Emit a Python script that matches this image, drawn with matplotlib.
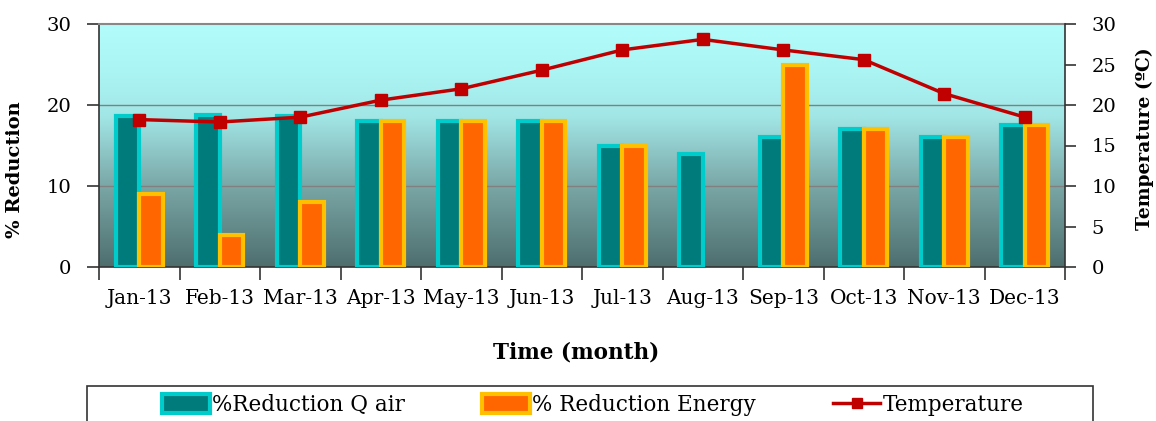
import numpy as np
import matplotlib
matplotlib.use("Agg")
import matplotlib.pyplot as plt
from matplotlib.colors import LinearSegmentedColormap
from matplotlib.patches import Rectangle
from matplotlib.lines import Line2D

plt.rcParams['font.family'] = ['DejaVu Serif']

# Data
months = ['Jan-13', 'Feb-13', 'Mar-13', 'Apr-13', 'May-13', 'Jun-13',
          'Jul-13', 'Aug-13', 'Sep-13', 'Oct-13', 'Nov-13', 'Dec-13']
red_q_air = [18.6, 18.8, 18.6, 18.0, 18.0, 18.0, 15.0, 14.0, 16.0, 17.0, 16.0, 17.5]
red_energy = [9.0, 4.0, 8.0, 18.0, 18.0, 18.0, 15.0, np.nan, 25.0, 17.0, 16.0, 17.5]
temperature = [18.2, 17.9, 18.5, 20.6, 22.0, 24.3, 26.8, 28.1, 26.8, 25.6, 21.4, 18.5]

W, H = 1156, 421
fig = plt.figure(figsize=(W / 100, H / 100), dpi=100)
ax = fig.add_axes([99 / W, 1 - 267 / H, (1065 - 99) / W, (267 - 24) / H])

# gradient background
cmap = LinearSegmentedColormap.from_list(
    'bg', [(0.0, '#4e6e6e'), (0.33, '#7aa6a6'), (0.62, '#a2e6e6'),
           (0.8, '#abf4f4'), (1.0, '#b2fcfc')])
grad = np.linspace(0, 1, 256).reshape(-1, 1)
ax.imshow(grad, extent=[0, 1, 0, 1], transform=ax.transAxes, cmap=cmap,
          origin='lower', aspect='auto', zorder=0)

x = np.arange(len(months))
bw = 0.29
ax.bar(x - bw / 2, red_q_air, bw, color='#007b7b', edgecolor='#00cccc',
       linewidth=3, zorder=3)
ax.bar(x + bw / 2, red_energy, bw, color='#ff6600', edgecolor='#ffc000',
       linewidth=3, zorder=3)

ax.set_xlim(-0.5, len(months) - 0.5)
ax.set_ylim(0, 30)
ax.set_yticks([0, 10, 20, 30])
for yv in [10, 20]:
    ax.axhline(yv, color='#808080', linewidth=1, zorder=1)

ax.set_xticks(np.arange(-0.5, len(months)), labels=[''] * (len(months) + 1))
ax.set_xticks(x, labels=months, minor=True)
ax.tick_params(axis='x', which='major', length=9, width=1.2, color='#333333')
ax.tick_params(axis='x', which='minor', length=0, pad=16, labelsize=14.5)
ax.tick_params(axis='y', length=9, width=1.2, color='#333333', pad=11, labelsize=14)

for s in ['left', 'bottom']:
    ax.spines[s].set_color('#333333')
    ax.spines[s].set_linewidth(1.2)
ax.spines['top'].set_color('#888888')
ax.spines['top'].set_linewidth(1.5)
ax.spines['right'].set_visible(False)

ax.set_ylabel('% Reduction', fontsize=14, fontweight='bold')
ax.yaxis.set_label_coords(-0.078, 0.40)

ax2 = ax.twinx()
ax2.plot(x, temperature, color='#c00000', linewidth=2.5, marker='s',
         markersize=8.5, zorder=5)
ax2.set_ylim(0, 30)
ax2.set_yticks(np.arange(0, 31, 5))
ax2.tick_params(axis='y', length=8, width=1.2, color='#333333', pad=11, labelsize=14)
ax2.spines['right'].set_color('#333333')
ax2.spines['right'].set_linewidth(1.2)
for s in ['left', 'top', 'bottom']:
    ax2.spines[s].set_visible(False)
ax2.set_ylabel('Temperature (ºC)', fontsize=13.5, fontweight='bold')
ax2.yaxis.set_label_coords(1.073, 0.53)

fig.text(576 / W, 1 - 352 / H, 'Time (month)', ha='center', va='center',
         fontsize=15.5, fontweight='bold')

# legend with box running off the bottom
fig.patches.append(Rectangle((87 / W, -0.1), (1093 - 87) / W, 0.1 + 1 - 386 / H,
                             transform=fig.transFigure, fill=False,
                             edgecolor='#333333', linewidth=1.2))
handles = [
    Rectangle((0, 0), 1, 1, facecolor='#007b7b', edgecolor='#00cccc', linewidth=3),
    Rectangle((0, 0), 1, 1, facecolor='#ff6600', edgecolor='#ffc000', linewidth=3),
    Line2D([], [], color='#c00000', linewidth=2.5, marker='s', markersize=7),
]
fig.legend(handles, ['%Reduction Q air', '% Reduction Energy', 'Temperature'],
           loc='center', bbox_to_anchor=(593 / W, 1 - 405 / H), ncol=3,
           frameon=False, fontsize=15.5, handlelength=2.2, handleheight=1.0,
           handletextpad=0.1, columnspacing=3.6)

fig.savefig('out.png', dpi=100)
